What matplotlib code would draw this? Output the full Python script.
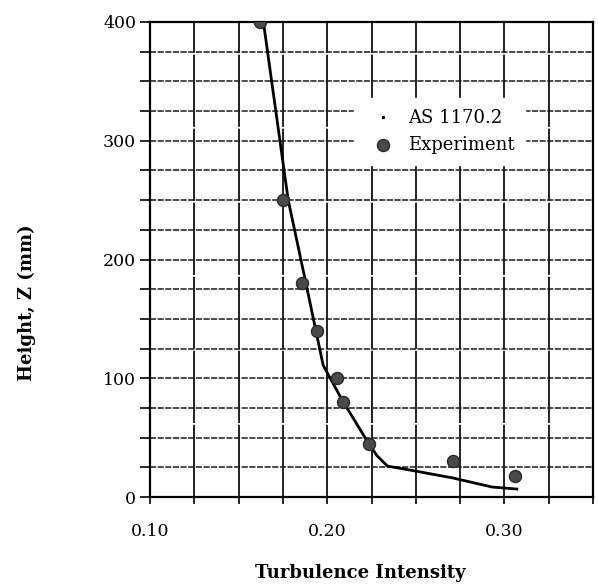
import numpy as np
import matplotlib.pyplot as plt
from matplotlib.lines import Line2D
from matplotlib.ticker import MultipleLocator

plt.rcParams['font.family'] = ['DejaVu Serif']

# AS 1170.2 Kurve
as_x = [0.164, 0.178, 0.188, 0.1977, 0.2083, 0.223, 0.228, 0.234, 0.2467, 0.271, 0.293, 0.307]
as_z = [400, 250, 180, 111, 82, 46, 35, 26, 22.7, 16, 8.4, 6.7]

# Messpunkte
exp_x = [0.162, 0.175, 0.186, 0.194, 0.2055, 0.209, 0.2236, 0.271, 0.306]
exp_z = [400, 250, 180, 140, 100, 80, 45, 30, 18]

fig = plt.figure(figsize=(5.98, 5.84), dpi=100)
ax = fig.add_axes([150/598, 1-497/584, 443/598, 475/584])

# Gitter
for xv in np.arange(0.125, 0.35, 0.025):
    ax.axvline(xv, color='#111111', lw=1.3, ls=(0, (40, 1)), zorder=1)
for zv in np.arange(25, 400, 25):
    ax.axhline(zv, color='#1a1a1a', lw=1.1, ls=(0, (4, 1)), zorder=1)

ax.plot(as_x, as_z, color='black', lw=2, zorder=3)
exp = ax.scatter(exp_x, exp_z, s=75, color='#4a4a4a', edgecolor='#2a2a2a', zorder=4)

ax.set_xlim(0.10, 0.35)
ax.set_ylim(0, 400)
ax.set_xticks([0.10, 0.20, 0.30])
ax.set_xticklabels(['0.10', '0.20', '0.30'])
ax.set_yticks([0, 100, 200, 300, 400])
ax.xaxis.set_minor_locator(MultipleLocator(0.025))
ax.yaxis.set_minor_locator(MultipleLocator(25))
ax.tick_params(axis='both', which='both', direction='out', width=1.2, labelsize=12.5)
ax.tick_params(axis='y', which='both', length=7, pad=3)
ax.tick_params(axis='x', which='both', length=5, pad=14)
for s in ax.spines.values():
    s.set_linewidth(1.6)

handles = [Line2D([], [], color='black', marker='o', markersize=1.5, linestyle='none'),
           exp]
leg = ax.legend(handles, ['AS 1170.2', 'Experiment'], loc='upper left',
                bbox_to_anchor=(0.46, 0.84), borderaxespad=0, frameon=True,
                fontsize=13, handletextpad=0.4, borderpad=0.6, labelspacing=0.5)
leg.get_frame().set_facecolor('white')
leg.get_frame().set_edgecolor('white')
leg.get_frame().set_alpha(1)
leg.set_zorder(5)

fig.text(27/598, 1-303/584, 'Height, Z (mm)', rotation=90, ha='center', va='center',
         fontsize=13, fontweight='bold')
fig.text(360/598, 1-573/584, 'Turbulence Intensity', ha='center', va='center',
         fontsize=13, fontweight='bold')

fig.savefig('out.png', dpi=100)
